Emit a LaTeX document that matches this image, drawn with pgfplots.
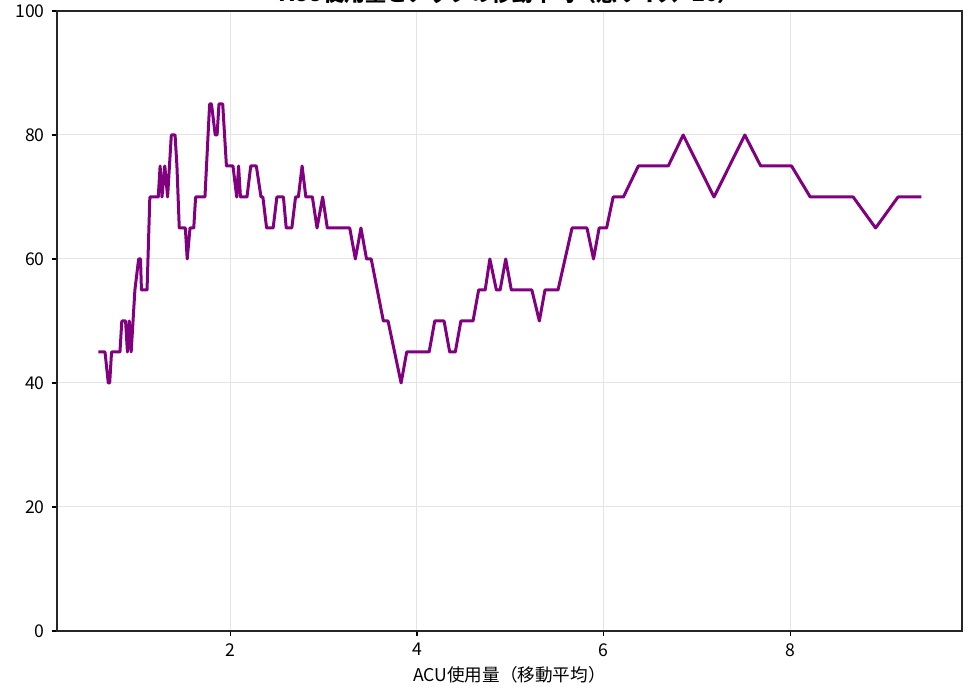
\documentclass[border=0pt]{standalone}
\usepackage{pgfplots}
\pgfplotsset{compat=1.18}
\usepackage{fontspec}
\setmainfont{Noto Sans CJK JP}
\definecolor{linepurple}{RGB}{128,0,128}
\definecolor{gridgray}{RGB}{228,228,228}
\begin{document}
\begin{tikzpicture}
\useasboundingbox (-28.5pt,-32.5pt) rectangle (458.5pt,315.5pt);
\begin{axis}[
  overlay,
  at={(0,0)}, anchor=south west,
  scale only axis, width=452.5pt, height=310pt,
  xmin=0.146, xmax=9.835, ymin=0, ymax=100,
  xtick={2,4,6,8}, ytick={0,20,40,60,80,100},
  /pgf/number format/assume math mode=true,
  tick label style={font=\fontsize{8.8}{10}\selectfont},
  tick align=outside, tick pos=left,
  major tick length=2.6pt,
  every tick/.style={black, line width=0.6pt},
  axis line style={black!85, line width=0.7pt},
  grid=major, major grid style={gridgray, line width=0.5pt},
  xlabel={ACU使用量（移動平均）},
  xlabel style={font=\fontsize{8.8}{10}\selectfont, yshift=2pt},
  clip=true,
]
\addplot[linepurple, line width=1.5pt, line join=round] coordinates {
(0.59,45) (0.66,45) (0.695,40) (0.71,40) (0.73,45) (0.82,45) (0.84,50) (0.88,50)
(0.90,45) (0.92,50) (0.94,45) (0.96,50) (0.98,55) (1.02,60) (1.04,60) (1.05,55)
(1.11,55) (1.14,70) (1.23,70) (1.25,75) (1.27,70) (1.30,75) (1.33,70) (1.37,80)
(1.41,80) (1.43,75) (1.455,65) (1.52,65) (1.54,60) (1.57,65) (1.61,65) (1.63,70)
(1.73,70) (1.78,85) (1.80,85) (1.84,80) (1.86,80) (1.88,85) (1.92,85) (1.96,75)
(2.03,75) (2.07,70) (2.09,75) (2.11,70) (2.18,70) (2.22,75) (2.28,75) (2.33,70)
(2.35,70) (2.39,65) (2.46,65) (2.50,70) (2.57,70) (2.60,65) (2.66,65) (2.70,70)
(2.73,70) (2.77,75) (2.81,70) (2.88,70) (2.93,65) (2.99,70) (3.04,65) (3.28,65)
(3.34,60) (3.40,65) (3.46,60) (3.51,60) (3.64,50) (3.69,50) (3.83,40) (3.89,45)
(4.13,45) (4.19,50) (4.29,50) (4.35,45) (4.41,45) (4.47,50) (4.60,50) (4.66,55)
(4.73,55) (4.78,60) (4.85,55) (4.89,55) (4.95,60) (5.01,55) (5.23,55) (5.31,50)
(5.37,55) (5.51,55) (5.66,65) (5.82,65) (5.89,60) (5.95,65) (6.03,65) (6.10,70)
(6.21,70) (6.37,75) (6.69,75) (6.85,80) (7.18,70) (7.51,80) (7.68,75) (8.01,75)
(8.21,70) (8.67,70) (8.91,65) (9.15,70) (9.40,70)
};
\end{axis}
\node[overlay, anchor=base, font=\fontsize{10.5}{12}\selectfont\bfseries] at (226.25pt,314.5pt) {ACU使用量とアップの移動平均（窓サイズ=20）};
\node[overlay, rotate=90, anchor=south, font=\fontsize{8.8}{10}\selectfont] at (-26pt,160pt) {アップ率（\%）};
\end{tikzpicture}
\end{document}
